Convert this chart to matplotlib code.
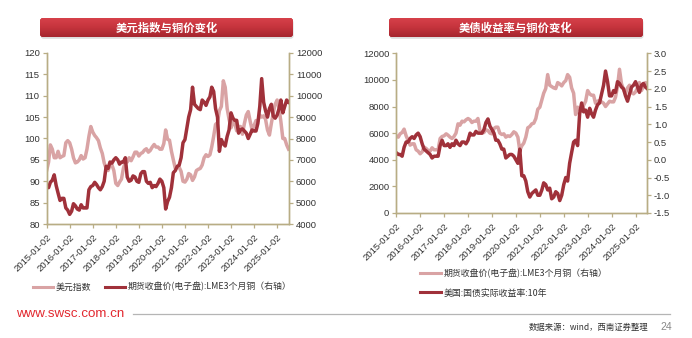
import numpy as np
import pandas as pd
import matplotlib
matplotlib.use("Agg")
import matplotlib.pyplot as plt
from matplotlib.patches import FancyBboxPatch
from matplotlib.lines import Line2D
from matplotlib.colors import LinearSegmentedColormap
from matplotlib.ticker import FormatStrFormatter

# ---------------- data (monthly readings, 2015-01 .. 2025-07) ----------------
start_month = "2015-01-01"

dxy = [
    92.5, 94.5, 98.5, 97.5, 95.5, 95.5, 97.0, 95.5, 95.8, 96.0, 99.0, 99.5,
    99.0, 97.5, 95.5, 94.3, 94.5, 95.0, 96.0, 95.2, 95.5, 97.5, 100.5, 102.8,
    101.5, 100.7, 100.2, 99.5, 97.8, 96.5, 94.3, 93.0, 92.5, 93.7, 93.8, 92.5,
    89.5, 89.0, 89.8, 90.5, 93.0, 94.5, 94.5, 95.5, 94.8, 95.7, 96.8, 96.8,
    95.9, 96.5, 96.7, 97.3, 97.6, 96.8, 97.2, 98.0, 98.6, 98.0, 98.0, 97.5,
    97.5, 98.8, 102.0, 99.8, 99.6, 97.0, 95.0, 93.0, 93.3, 93.3, 92.3, 90.0,
    89.8, 90.5, 91.8, 91.5, 90.2, 91.0, 92.5, 92.8, 93.0, 93.8, 95.5, 96.2,
    95.8, 96.2, 98.0, 100.5, 103.3, 103.7, 106.5, 107.5, 113.5, 112.0, 107.0, 104.5,
    102.5, 104.0, 103.5, 101.8, 102.8, 102.8, 101.0, 103.5, 105.5, 106.3, 104.0, 102.0,
    103.0, 104.2, 104.0, 105.5, 105.0, 105.3, 104.5, 102.0, 100.8, 103.5, 106.0, 108.0,
    109.0, 107.0, 104.0, 100.0, 100.0, 98.5, 97.5,
]

copper = [
    5800, 5700, 5950, 6050, 6300, 5800, 5450, 5100, 5200, 5200, 4750, 4650,
    4450, 4600, 4950, 4850, 4700, 4650, 4900, 4750, 4750, 4750, 5600, 5750,
    5800, 5950, 5850, 5700, 5600, 5750, 6000, 6700, 6600, 6900, 6850, 7000,
    7100, 7000, 6800, 6900, 6900, 7100, 6200, 6000, 6050, 6250, 6200, 6000,
    5950, 6350, 6450, 6450, 6000, 5900, 5950, 5700, 5800, 5750, 5900, 6100,
    6000, 5700, 4700, 5050, 5250, 5700, 6400, 6500, 6700, 6750, 7100, 7800,
    7950, 8500, 9000, 9350, 10400, 9600, 9500, 9400, 9350, 9800, 9700, 9550,
    9800, 9950, 10400, 10200, 9400, 9000, 7400, 7950, 7750, 7650, 8100, 8400,
    9200, 8950, 8850, 8850, 8250, 8400, 8450, 8350, 8250, 8000, 8200, 8400,
    8350, 8350, 8700, 9500, 10800, 9700, 9300, 9000, 9400, 9600, 9050, 8950,
    9100, 9400, 9800, 9200, 9500, 9800, 9700,
]

real_yield = [
    0.20, 0.15, 0.15, 0.10, 0.35, 0.50, 0.50, 0.60, 0.65, 0.60, 0.70, 0.75,
    0.65, 0.45, 0.30, 0.25, 0.20, 0.15, 0.05, 0.10, 0.10, 0.10, 0.40, 0.55,
    0.40, 0.40, 0.45, 0.35, 0.45, 0.40, 0.55, 0.45, 0.40, 0.50, 0.50, 0.45,
    0.55, 0.75, 0.70, 0.70, 0.80, 0.75, 0.75, 0.75, 0.85, 1.05, 1.15, 0.95,
    0.85, 0.75, 0.55, 0.55, 0.45, 0.30, 0.30, 0.05, 0.10, 0.15, 0.15, 0.10,
    0.00, -0.10, 0.30, -0.45, -0.45, -0.60, -0.90, -1.05, -0.95, -0.90, -0.85, -1.00,
    -1.00, -0.85, -0.65, -0.70, -0.85, -0.80, -1.10, -1.05, -0.90, -0.95, -1.15, -1.00,
    -0.70, -0.50, -0.60, -0.10, 0.20, 0.50, 0.55, 0.40, 1.30, 1.60, 1.35, 1.40,
    1.20, 1.45, 1.30, 1.20, 1.40, 1.55, 1.60, 1.85, 2.10, 2.50, 2.20, 1.80,
    1.80, 1.95, 1.90, 2.20, 2.15, 2.05, 2.00, 1.80, 1.65, 1.85, 2.05, 2.10,
    2.20, 2.05, 1.90, 2.10, 2.15, 2.05, 2.00,
]

tick_labels = ["2015-01-02", "2016-01-02", "2017-01-02", "2018-01-02", "2019-01-02",
               "2020-01-02", "2021-01-02", "2022-01-02", "2023-01-02", "2024-01-02",
               "2025-01-02"]

title_left = "美元指数与铜价变化"
title_right = "美债收益率与铜价变化"
legend_left = ["美元指数", "期货收盘价(电子盘):LME3个月铜（右轴）"]
legend_right = ["期货收盘价(电子盘):LME3个月铜（右轴）", "美国:国债实际收益率:10年"]
site_text = "www.swsc.com.cn"
source_text = "数据来源：wind，西南证券整理"
page_text = "24"

dates = pd.date_range(start_month, periods=len(dxy), freq="MS")
tick_dates = pd.to_datetime(tick_labels)

# ---------------- style ----------------
PINK = "#d9a3a4"
DARK = "#a0313a"
SPINE = "#b8ad85"
TXT = "#333333"
LW = 2.5
NUMFONT = ["Liberation Sans", "DejaVu Sans"]
CJK = ["Noto Sans CJK SC", "DejaVu Sans"]
plt.rcParams["font.family"] = NUMFONT

W, H = 692, 338
fig = plt.figure(figsize=(W / 100, H / 100), dpi=100)
fig.patch.set_facecolor("white")


def px_axes(x0, y0, x1, y1):
    return fig.add_axes([x0 / W, 1 - y1 / H, (x1 - x0) / W, (y1 - y0) / H])


def style_axes(ax, twin):
    ax.spines["top"].set_visible(False)
    twin.spines["top"].set_visible(False)
    for a in (ax, twin):
        for s in ["left", "right", "bottom"]:
            a.spines[s].set_color(SPINE)
            a.spines[s].set_linewidth(1.0)
        a.tick_params(axis="both", colors=SPINE, labelcolor=TXT, labelsize=6.8,
                      length=3, width=0.9, direction="out", pad=2)
    ax.set_xticks(tick_dates)
    ax.set_xticklabels(tick_labels, rotation=45, ha="right", va="top",
                       rotation_mode="anchor", fontsize=6.8)
    ax.tick_params(axis="x", pad=3)


def banner(x0, y0, x1, y1, text):
    m = 3
    bax = px_axes(x0 - m, y0 - m, x1 + m, y1 + m)
    bax.set_xlim(-m, x1 - x0 + m)
    bax.set_ylim(y1 - y0 + m, -m)
    bax.axis("off")
    w, h = x1 - x0, y1 - y0
    shadow = FancyBboxPatch((0.6, 1.8), w, h, boxstyle="round,pad=0,rounding_size=3",
                            facecolor="#cfcfcf", edgecolor="none", alpha=0.7, zorder=0.5)
    bax.add_patch(shadow)
    clip = FancyBboxPatch((0, 0), w, h, boxstyle="round,pad=0,rounding_size=3",
                          facecolor="#c3323b", edgecolor="none", zorder=1)
    bax.add_patch(clip)
    cmap = LinearSegmentedColormap.from_list("b", ["#d8424c", "#c6343d", "#a5262e"])
    grad = np.linspace(0, 1, 64).reshape(-1, 1)
    im = bax.imshow(grad, extent=[0, w, h, 0], aspect="auto", cmap=cmap,
                    origin="upper", interpolation="bilinear", zorder=2)
    im.set_clip_path(clip)
    bax.text(w / 2, h / 2 + 0.5, text, color="white", fontsize=8.2, fontweight="bold",
             ha="center", va="center", family=CJK, zorder=3)


# ---------------- left chart ----------------
axL = px_axes(46.7, 53, 289, 224)
axL2 = axL.twinx()
axL.plot(dates, dxy, color=PINK, lw=LW, solid_joinstyle="round")
axL2.plot(dates, copper, color=DARK, lw=LW, solid_joinstyle="round")
axL.set_ylim(80, 120)
axL.set_yticks(np.arange(80, 121, 5))
axL2.set_ylim(4000, 12000)
axL2.set_yticks(np.arange(4000, 12001, 1000))
axL.set_xlim(pd.Timestamp("2015-01-02"), pd.Timestamp("2025-07-08"))
style_axes(axL, axL2)
axL.set_zorder(axL2.get_zorder() - 1)
axL2.patch.set_visible(False)

# ---------------- right chart ----------------
axR = px_axes(396.3, 53.3, 647, 213)
axR2 = axR.twinx()
axR.plot(dates, copper, color=PINK, lw=LW, solid_joinstyle="round")
axR2.plot(dates, real_yield, color=DARK, lw=LW, solid_joinstyle="round")
axR.set_ylim(0, 12000)
axR.set_yticks(np.arange(0, 12001, 2000))
axR2.set_ylim(-1.5, 3.0)
axR2.set_yticks(np.arange(-1.5, 3.01, 0.5))
axR2.yaxis.set_major_formatter(FormatStrFormatter("%.1f"))
axR.set_xlim(pd.Timestamp("2015-01-02"), pd.Timestamp("2025-06-25"))
style_axes(axR, axR2)
axR.set_zorder(axR2.get_zorder() - 1)
axR2.patch.set_visible(False)

# ---------------- banners ----------------
banner(40, 18, 293, 37, title_left)
banner(389, 18, 643, 37, title_right)

# ---------------- legends ----------------
hL = [Line2D([], [], color=PINK, lw=2.2), Line2D([], [], color=DARK, lw=2.2)]
legL = fig.legend(hL, legend_left, loc="center left",
                  bbox_to_anchor=(33 / W, 1 - 287 / H), ncol=2, frameon=False,
                  prop={"family": CJK, "size": 6.4}, handlelength=2.2,
                  handletextpad=0.3, columnspacing=1.6, borderpad=0, borderaxespad=0)
for t in legL.get_texts():
    t.set_color(TXT)

hR = [Line2D([], [], color=PINK, lw=2.2), Line2D([], [], color=DARK, lw=2.2)]
legR = fig.legend(hR, legend_right, loc="upper left",
                  bbox_to_anchor=(420 / W, 1 - 268.5 / H), ncol=1, frameon=False,
                  prop={"family": CJK, "size": 6.4}, handlelength=2.4,
                  handletextpad=0.3, labelspacing=1.2, borderpad=0, borderaxespad=0)
for t in legR.get_texts():
    t.set_color(TXT)

# ---------------- footer ----------------
fig.text(16 / W, 1 - 314 / H, site_text, color="#e2282f", fontsize=9.6,
         ha="left", va="center", family=NUMFONT)
fig.add_artist(Line2D([133 / W, 670 / W], [1 - 314 / H, 1 - 314 / H],
                      color="#b5b5b5", lw=0.9))
fig.text(648 / W, 1 - 327 / H, source_text, color=TXT, fontsize=6.0,
         ha="right", va="center", family=CJK)
fig.text(672 / W, 1 - 327 / H, page_text, color="#888888", fontsize=7.5,
         ha="right", va="center", family=NUMFONT)

fig.savefig("out.png", dpi=100, facecolor="white")
